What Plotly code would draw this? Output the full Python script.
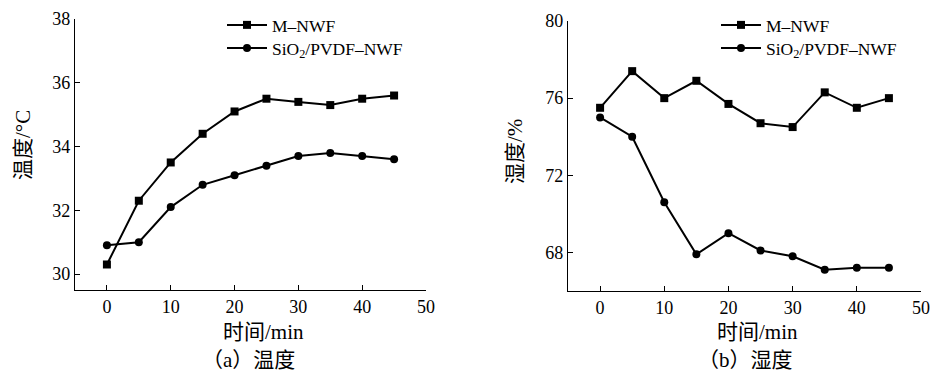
import plotly.graph_objects as go

time_min = [0, 5, 10, 15, 20, 25, 30, 35, 40, 45]
temp_m_nwf = [30.3, 32.3, 33.5, 34.4, 35.1, 35.5, 35.4, 35.3, 35.5, 35.6]
temp_sio2 = [30.9, 31.0, 32.1, 32.8, 33.1, 33.4, 33.7, 33.8, 33.7, 33.6]
hum_m_nwf = [75.5, 77.4, 76.0, 76.9, 75.7, 74.7, 74.5, 76.3, 75.5, 76.0]
hum_sio2 = [75.0, 74.0, 70.6, 67.9, 69.0, 68.1, 67.8, 67.1, 67.2, 67.2]
series_names = ["M–NWF", "SiO<sub>2</sub>/PVDF–NWF"]
x_ticks = [0, 10, 20, 30, 40, 50]
temp_ticks = [30, 32, 34, 36, 38]
hum_ticks = [68, 72, 76, 80]

W, H = 950, 380
FONT = "Liberation Serif, Times New Roman, Noto Sans CJK SC, serif"
CJK = "Liberation Serif, Noto Sans CJK SC, serif"

def px(xp):
    return xp / W

def py(yp):
    return 1 - yp / H

fig = go.Figure()

line = dict(color="black", width=2)
specs = [
    (temp_m_nwf, series_names[0], "square", "x", "y", "legend"),
    (temp_sio2, series_names[1], "circle", "x", "y", "legend2"),
    (hum_m_nwf, series_names[0], "square", "x2", "y2", "legend3"),
    (hum_sio2, series_names[1], "circle", "x2", "y2", "legend4"),
]
for vals, name, sym, xa, ya, lg in specs:
    fig.add_trace(go.Scatter(x=time_min, y=vals, name=name, mode="lines+markers",
                             line=line, marker=dict(symbol=sym, size=8, color="black"),
                             xaxis=xa, yaxis=ya, legend=lg))

axis_common = dict(showline=True, linecolor="black", linewidth=1.3, ticks="inside",
                   ticklen=5, tickwidth=1.3, tickcolor="black", showgrid=False,
                   zeroline=False, automargin=False,
                   tickfont=dict(family=FONT, size=18, color="black"))

def leg(xp, yp):
    return dict(x=px(xp), y=py(yp), xanchor="left", yanchor="top", bgcolor="rgba(0,0,0,0)",
                font=dict(family=FONT, size=17.5, color="black"), tracegroupgap=0, itemwidth=40)

fig.update_layout(
    width=W, height=H, autosize=False,
    margin=dict(l=0, r=0, t=0, b=0, pad=0),
    paper_bgcolor="white", plot_bgcolor="white",
    font=dict(family=FONT, size=18, color="black"),
    xaxis=dict(domain=[px(75), px(426)], range=[-5, 50], tickvals=x_ticks, anchor="y", **axis_common),
    yaxis=dict(domain=[py(290), py(19)], range=[29.5, 38], tickvals=temp_ticks, anchor="x", **axis_common),
    xaxis2=dict(domain=[px(568), px(921)], range=[-5, 50], tickvals=x_ticks, anchor="y2", **axis_common),
    yaxis2=dict(domain=[py(291), py(21)], range=[66, 80], tickvals=hum_ticks, anchor="x2", **axis_common),
    legend=leg(222, 7),
    legend2=leg(222, 30),
    legend3=leg(716, 7),
    legend4=leg(716, 30),
    showlegend=True,
)

annos = [
    dict(text="温度/°C", x=px(23), y=py(145), textangle=-90),
    dict(text="湿度/%", x=px(515), y=py(152), textangle=-90),
    dict(text="时间/min", x=px(263), y=py(332)),
    dict(text="时间/min", x=px(757), y=py(332)),
    dict(text="（a）温度", x=px(248), y=py(360)),
    dict(text="（b）湿度", x=px(745), y=py(360)),
]
for a in annos:
    fig.add_annotation(xref="paper", yref="paper", showarrow=False, xanchor="center", yanchor="middle",
                       font=dict(family=CJK, size=21, color="black"), **a)

fig.write_html("out.html", config={"responsive": False, "displayModeBar": False},
               post_script="document.body.style.margin='0';document.body.style.overflow='hidden';")
